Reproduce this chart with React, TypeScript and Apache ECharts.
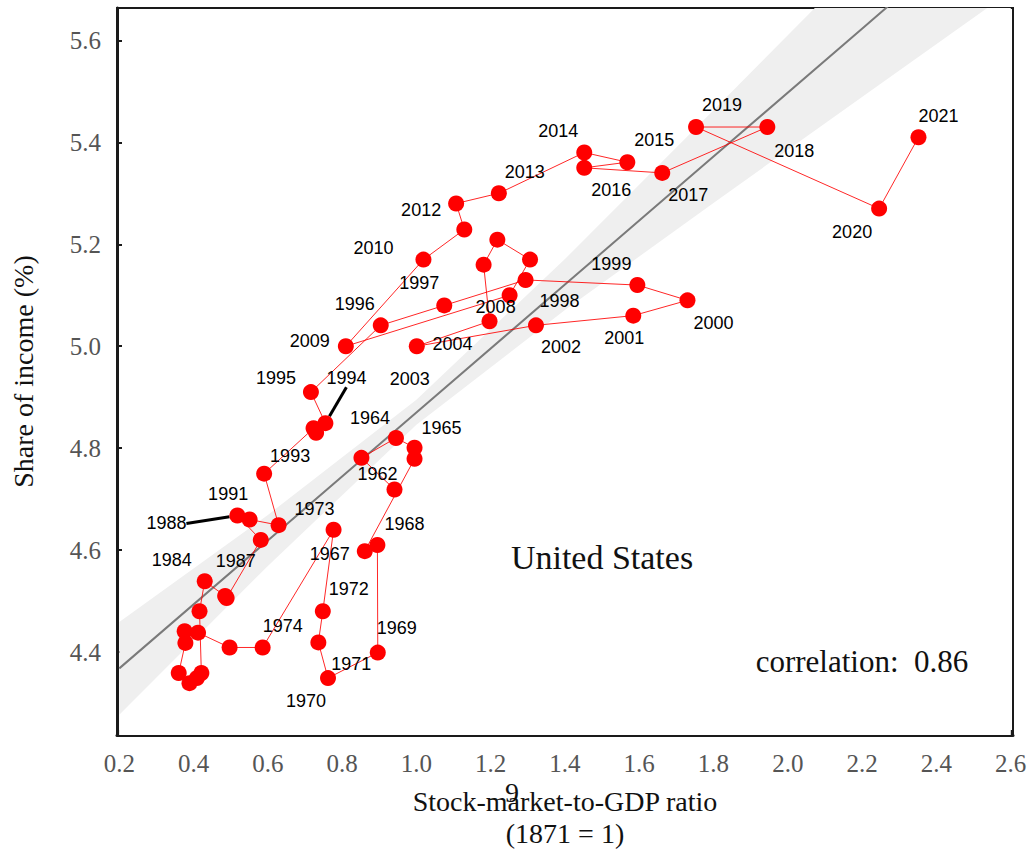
import React, { useEffect, useRef } from "react";
import * as echarts from "echarts";

// ---------- data ----------
const years = [
  1962, 1963, 1964, 1965, 1966, 1967, 1968, 1969, 1970, 1971, 1972, 1973, 1974,
  1975, 1976, 1977, 1978, 1979, 1980, 1981, 1982, 1983, 1984, 1985, 1986, 1987,
  1988, 1989, 1990, 1991, 1992, 1993, 1994, 1995, 1996, 1997, 1998, 1999, 2000,
  2001, 2002, 2003, 2004, 2005, 2006, 2007, 2008, 2009, 2010, 2011, 2012, 2013,
  2014, 2015, 2016, 2017, 2018, 2019, 2020, 2021,
];
const stockToGdp = [
  0.941, 0.852, 0.945, 0.995, 0.995, 0.861, 0.895, 0.896, 0.762, 0.736, 0.748, 0.777, 0.586,
  0.497, 0.412, 0.376, 0.378, 0.36, 0.389, 0.409, 0.421, 0.416, 0.43, 0.485, 0.489, 0.581,
  0.518, 0.551, 0.629, 0.59, 0.723, 0.73, 0.755, 0.716, 0.904, 1.075, 1.294, 1.595, 1.73,
  1.584, 1.322, 1.001, 1.197, 1.181, 1.218, 1.306, 1.251, 0.81, 1.019, 1.129, 1.107, 1.222,
  1.452, 1.568, 1.452, 1.662, 1.945, 1.753, 2.246, 2.352,
];
const incomeShare = [
  4.719, 4.781, 4.82, 4.801, 4.779, 4.598, 4.61, 4.399, 4.349, 4.419, 4.48, 4.64, 4.409,
  4.409, 4.438, 4.441, 4.418, 4.359, 4.339, 4.349, 4.359, 4.48, 4.539, 4.51, 4.506, 4.62,
  4.668, 4.66, 4.649, 4.75, 4.839, 4.83, 4.849, 4.91, 5.041, 5.08, 5.13, 5.12, 5.09,
  5.06, 5.041, 5.0, 5.049, 5.16, 5.209, 5.17, 5.1, 5.0, 5.17, 5.229, 5.28, 5.3,
  5.38, 5.361, 5.35, 5.34, 5.43, 5.43, 5.27, 5.41,
];
const xTicks = [0.2, 0.4, 0.6, 0.8, 1.0, 1.2, 1.4, 1.6, 1.8, 2.0, 2.2, 2.4, 2.6];
const yTicks = [4.4, 4.6, 4.8, 5.0, 5.2, 5.4, 5.6];
// fitted line and its confidence band
const fitX = [0.2, 0.6, 1.0, 1.4, 1.8, 2.2, 2.6];
const fitY = [4.368, 4.619, 4.87, 5.121, 5.372, 5.623, 5.874];
const bandLow = [4.277, 4.569, 4.846, 5.071, 5.281, 5.489, 5.696];
const bandHigh = [4.459, 4.669, 4.895, 5.171, 5.463, 5.757, 6.052];
const countryName = "United States";
const correlation = 0.86;
const labeledYears = [
  1962, 1964, 1965, 1967, 1968, 1969, 1970, 1971, 1972, 1973, 1974, 1984, 1987, 1988,
  1991, 1993, 1994, 1995, 1996, 1997, 1998, 1999, 2000, 2001, 2002, 2003, 2004, 2008,
  2009, 2010, 2012, 2013, 2014, 2015, 2016, 2017, 2018, 2019, 2020, 2021,
];
const leaderYears = [1988, 1994];

// ---------- layout (label placement, px offsets from the dot) ----------
const LABEL_OFFSETS: Record<number, [number, number]> = {
  2021: [20, -21], 2020: [-27, 23], 2019: [26, -22], 2018: [27, 24], 2017: [26, 22],
  2016: [27, 22], 2015: [27, -22], 2014: [-26, -22], 2013: [26, -21], 2012: [-35, 7],
  2010: [-50, -12], 2009: [-36, -5], 1997: [-25, -22], 1996: [-26, -21], 2008: [-14, 12],
  1998: [34, 21], 1999: [-26, -21], 2000: [26, 23], 2001: [-9, 22], 2002: [25, 22],
  2004: [-37, 23], 2003: [-7, 33], 1995: [-35, -14], 1994: [21, -45], 1993: [-26, 23],
  1991: [-36, 20], 1988: [-71, 8], 1987: [-25, 21], 1984: [-33, -21], 1974: [20, -21],
  1973: [-19, -21], 1972: [26, -22], 1971: [33, 22], 1970: [-22, 23], 1969: [19, -25],
  1968: [27, -21], 1967: [-35, 3], 1965: [27, -20], 1964: [-26, -20], 1962: [-17, -15],
};

const SERIF = "Liberation Serif";
const SANS = "Liberation Sans";

export default function App() {
  const ref = useRef<HTMLDivElement>(null);

  useEffect(() => {
    if (!ref.current) return;
    const chart = echarts.init(ref.current, undefined, { renderer: "svg" });

    const points = years.map((y, i) => ({
      value: [stockToGdp[i], incomeShare[i]],
      label: { show: labeledYears.includes(y) },
      labelLine: { show: leaderYears.includes(y) },
    }));
    const pathData = years.map((_, i) => [stockToGdp[i], incomeShare[i]]);

    const option: any = {
      animation: false,
      textStyle: { fontFamily: SERIF },
      grid: {
        left: 117,
        top: 8,
        width: 896,
        height: 734,
        show: true,
        borderColor: "#1a1a1a",
        borderWidth: 2,
        backgroundColor: "#ffffff",
      },
      xAxis: {
        type: "value",
        min: 0.1938,
        max: 2.6065,
        axisLine: { show: true, onZero: false, lineStyle: { color: "#1a1a1a", width: 3 } },
        axisTick: { show: true, inside: true, length: 5, customValues: xTicks, lineStyle: { color: "#1a1a1a", width: 2 } },
        axisLabel: {
          customValues: xTicks,
          formatter: (v: number) => v.toFixed(1),
          color: "#555555",
          fontSize: 25,
          fontFamily: SERIF,
          margin: 16,
        },
        splitLine: { show: false },
        name: "Stock-market-to-GDP ratio\n(1871 = 1)",
        nameLocation: "middle",
        nameGap: 50,
        nameTextStyle: { color: "#111111", fontSize: 28, fontFamily: SERIF, lineHeight: 32 },
      },
      yAxis: {
        type: "value",
        min: 4.2373,
        max: 5.6635,
        axisLine: { show: true, onZero: false, lineStyle: { color: "#1a1a1a", width: 3 } },
        axisTick: { show: true, inside: true, length: 5, customValues: yTicks, lineStyle: { color: "#1a1a1a", width: 2 } },
        axisLabel: {
          customValues: yTicks,
          formatter: (v: number) => v.toFixed(1),
          color: "#555555",
          fontSize: 25,
          fontFamily: SERIF,
          margin: 16,
        },
        splitLine: { show: false },
        name: "Share of income (%)",
        nameLocation: "middle",
        nameGap: 80,
        nameTextStyle: { color: "#111111", fontSize: 28, fontFamily: SERIF },
      },
      graphic: [
        {
          type: "text",
          x: 602,
          y: 557,
          style: { text: countryName, fontSize: 34, fontFamily: SERIF, fill: "#111", textAlign: "center", textVerticalAlign: "middle" },
          z: 10,
        },
        {
          type: "text",
          x: 862,
          y: 661,
          style: { text: "correlation:  " + correlation.toFixed(2), fontSize: 31, fontFamily: SERIF, fill: "#111", textAlign: "center", textVerticalAlign: "middle" },
          z: 10,
        },
        {
          type: "text",
          x: 512,
          y: 792,
          style: { text: "9", fontSize: 28, fontFamily: SERIF, fill: "#111", textAlign: "center", textVerticalAlign: "middle" },
          z: 10,
        },
      ],
      series: [
        {
          name: "bandUpper",
          type: "line",
          data: fitX.map((x, i) => [x, bandHigh[i]]),
          symbol: "none",
          lineStyle: { width: 0, opacity: 0 },
          areaStyle: { color: "#efefef", opacity: 1, origin: "start" },
          silent: true,
          z: 1,
        },
        {
          name: "bandLower",
          type: "line",
          data: fitX.map((x, i) => [x, bandLow[i]]),
          symbol: "none",
          lineStyle: { width: 0, opacity: 0 },
          areaStyle: { color: "#ffffff", opacity: 1, origin: "start" },
          silent: true,
          z: 1,
        },
        {
          name: "fit",
          type: "line",
          data: fitX.map((x, i) => [x, fitY[i]]),
          symbol: "none",
          lineStyle: { color: "#7a7a7a", width: 2 },
          silent: true,
          z: 2,
        },
        {
          name: "path",
          type: "line",
          data: pathData,
          symbol: "none",
          lineStyle: { color: "rgba(255,0,0,0.85)", width: 1 },
          silent: true,
          z: 3,
        },
        {
          name: "points",
          type: "scatter",
          data: points,
          symbol: "circle",
          symbolSize: 16,
          itemStyle: { color: "#ff0000", opacity: 1 },
          silent: true,
          z: 4,
          label: {
            show: false,
            position: "inside",
            formatter: (p: any) => String(years[p.dataIndex]),
            color: "#000000",
            fontSize: 18,
            fontFamily: SANS,
          },
          labelLine: { show: false, lineStyle: { color: "#000000", width: 3 } },
          labelLayout: (params: any) => {
            const o = LABEL_OFFSETS[years[params.dataIndex]];
            return o ? { dx: o[0], dy: o[1] } : {};
          },
        },
      ],
    };

    chart.setOption(option);
    return () => chart.dispose();
  }, []);

  return (
    <div
      ref={ref}
      style={{ position: "fixed", left: 0, top: 0, width: 1035, height: 854, background: "#ffffff" }}
    />
  );
}
